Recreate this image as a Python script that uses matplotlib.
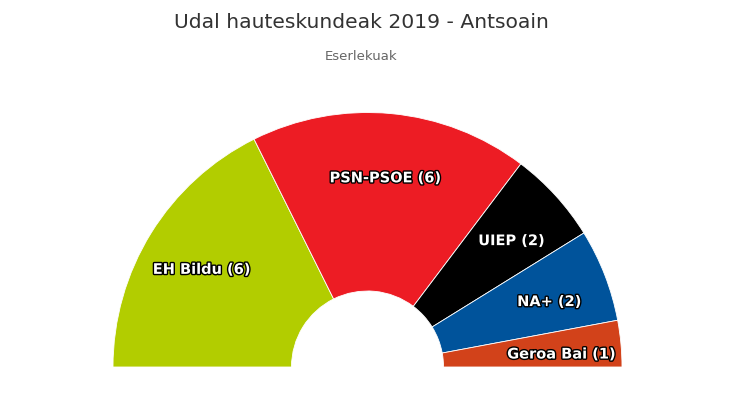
import matplotlib
matplotlib.use("Agg")
import matplotlib.pyplot as plt
import matplotlib.patheffects as pe
import numpy as np

parties = ["EH Bildu", "PSN-PSOE", "UIEP", "NA+", "Geroa Bai"]
seats = [6, 6, 2, 2, 1]
colors = ["#b2cd00", "#ed1c24", "#000000", "#00539b", "#d2421a"]
title = "Udal hauteskundeak 2019 - Antsoain"
subtitle = "Eserlekuak"

W, H = 735, 413
fig = plt.figure(figsize=(W / 100, H / 100), dpi=100)
ax = fig.add_axes([0, 0, 1, 1])

cx, cy = 367.5, H - 367
R = 254.5
r_in = 76
total = sum(seats)

wedges, _ = ax.pie(seats + [total], colors=colors + ["none"], startangle=180,
                   counterclock=False, radius=R, center=(cx, cy), frame=True,
                   wedgeprops=dict(width=R - r_in, linewidth=0.6, edgecolor="white"))
wedges[-1].set_visible(False)
ax.set_xlim(0, W)
ax.set_ylim(0, H)
ax.set_aspect("equal")
ax.axis("off")

ang = 180.0
lr = 195
for p, s in zip(parties, seats):
    span = 180.0 * s / total
    mid = np.deg2rad(ang - span / 2)
    ang -= span
    x = cx + lr * np.cos(mid)
    y = cy + lr * np.sin(mid) - 5
    ax.text(x, y, f"{p} ({s})", ha="center", va="center", color="white",
            fontsize=10.5, fontweight="bold", family="DejaVu Sans",
            path_effects=[pe.withStroke(linewidth=2, foreground="black")])

fig.text(361 / W, 1 - 22 / H, title, ha="center", va="center", fontsize=14.6, color="#333333",
         family="DejaVu Sans")
fig.text(361.5 / W, 1 - 57 / H, subtitle, ha="center", va="center", fontsize=9.5, color="#666666",
         family="DejaVu Sans")

fig.savefig("out.png", dpi=100)
